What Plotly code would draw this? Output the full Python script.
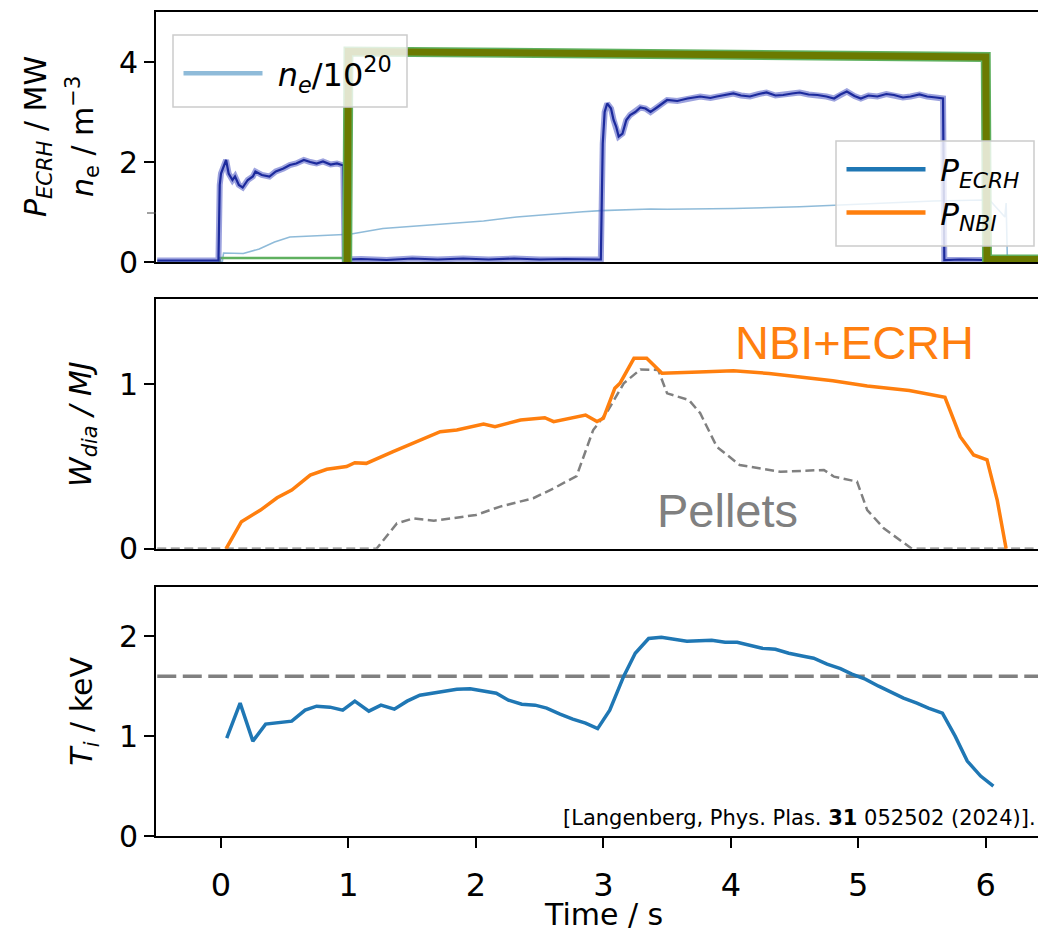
import plotly.graph_objects as go

# ---------------- data ----------------
# Panel 1: heating power (MW) and density (1e20 m^-3)
t_ecrh = [-0.5, -0.02, -0.01, 0.00, 0.04, 0.06, 0.09, 0.11, 0.14, 0.17, 0.21, 0.25, 0.27, 0.32,
          0.38, 0.43, 0.49, 0.54, 0.59, 0.65, 0.70, 0.75, 0.80, 0.86, 0.91, 0.96, 0.97,
          1.1, 1.3, 1.5, 1.7, 1.9, 2.1, 2.3, 2.5, 2.7, 2.96, 2.98, 2.995, 3.01, 3.03, 3.06,
          3.08, 3.10, 3.12, 3.15, 3.18, 3.21, 3.25, 3.29, 3.33, 3.37, 3.42, 3.50, 3.58, 3.66,
          3.76, 3.84, 3.89, 3.96, 4.02, 4.08, 4.15, 4.22, 4.28, 4.35, 4.41, 4.48, 4.54, 4.61,
          4.68, 4.75, 4.81, 4.86, 4.91, 4.97, 5.02, 5.08, 5.15, 5.22, 5.28, 5.35, 5.41, 5.48,
          5.54, 5.61, 5.665, 5.675, 5.8, 6.0, 6.2, 6.5]
p_ecrh = [0.03, 0.03, 1.54, 1.77, 2.04, 1.77, 1.64, 1.71, 1.54, 1.49, 1.64, 1.71, 1.81, 1.74,
          1.71, 1.81, 1.87, 1.94, 1.97, 2.04, 2.00, 1.97, 2.01, 1.95, 1.97, 1.93, 0.05,
          0.06, 0.04, 0.07, 0.05, 0.07, 0.05, 0.07, 0.05, 0.06, 0.05, 0.05, 2.37, 3.00, 3.17, 3.07,
          2.84, 2.71, 2.51, 2.57, 2.84, 2.94, 3.00, 3.09, 3.07, 3.00, 3.09, 3.24, 3.22, 3.27,
          3.31, 3.28, 3.31, 3.34, 3.37, 3.33, 3.31, 3.36, 3.39, 3.33, 3.34, 3.37, 3.39, 3.35,
          3.34, 3.31, 3.27, 3.35, 3.41, 3.32, 3.27, 3.33, 3.31, 3.36, 3.34, 3.29, 3.31, 3.35,
          3.31, 3.29, 3.27, 0.04, 0.05, 0.04, 0.05, 0.04]

t_nbi_pre = [-0.01, -0.01, 0.975]
p_nbi_pre = [0.0, 0.08, 0.08]
t_nbi = [0.99, 1.0, 2.0, 3.0, 4.0, 5.0, 6.0, 6.01, 6.5]
p_nbi = [0.0, 4.21, 4.19, 4.17, 4.15, 4.13, 4.10, 0.05, 0.05]

t_ne = [-0.5, 0.01, 0.02, 0.175, 0.30, 0.42, 0.54, 0.75, 1.01, 1.27, 1.53, 1.80, 2.06, 2.32,
        2.58, 2.84, 2.98, 3.10, 3.37, 3.50, 4.02, 4.54, 5.07, 5.59, 5.98, 6.04, 6.09, 6.15,
        6.16, 6.17, 6.5]
n_e = [0.0, 0.0, 0.18, 0.17, 0.26, 0.40, 0.50, 0.53, 0.555, 0.67, 0.72, 0.77, 0.82, 0.90,
       0.96, 1.005, 1.027, 1.04, 1.06, 1.055, 1.07, 1.105, 1.17, 1.22, 1.24, 1.21, 1.07, 0.90,
       1.18, 0.0, 0.0]

# Panel 2: diamagnetic energy (MJ)
t_w = [0.04, 0.16, 0.31, 0.44, 0.555, 0.70, 0.83, 0.985, 1.05, 1.14, 1.35, 1.53, 1.72, 1.85,
       2.06, 2.15, 2.35, 2.54, 2.61, 2.86, 2.95, 3.00, 3.09, 3.13, 3.24, 3.34, 3.46, 3.75,
       4.02, 4.30, 4.54, 4.80, 5.07, 5.40, 5.68, 5.80, 5.905, 6.01, 6.09, 6.16]
w_nbi_ecrh = [0.0, 0.164, 0.235, 0.31, 0.357, 0.448, 0.483, 0.50, 0.523, 0.519, 0.59, 0.65,
              0.712, 0.722, 0.758, 0.742, 0.783, 0.797, 0.773, 0.813, 0.773, 0.793, 0.976,
              1.006, 1.158, 1.158, 1.067, 1.075, 1.083, 1.066, 1.046, 1.022, 0.99, 0.962,
              0.921, 0.681, 0.57, 0.54, 0.296, 0.0]

t_pel = [-0.5, 1.22, 1.38, 1.51, 1.67, 2.00, 2.19, 2.45, 2.61, 2.79, 2.92, 3.03, 3.16, 3.29,
         3.43, 3.50, 3.67, 3.76, 3.89, 4.07, 4.39, 4.73, 4.81, 4.99, 5.07, 5.20, 5.42, 6.5]
w_pellets = [0.0, 0.0, 0.154, 0.185, 0.17, 0.205, 0.256, 0.307, 0.367, 0.442, 0.722, 0.833,
             1.006, 1.09, 1.087, 0.945, 0.905, 0.824, 0.62, 0.509, 0.468, 0.479, 0.438, 0.408,
             0.235, 0.124, 0.0, 0.0]

# Panel 3: ion temperature (keV)
t_ti = [0.045, 0.15, 0.25, 0.35, 0.555, 0.66, 0.75, 0.855, 0.955, 1.05, 1.16, 1.255, 1.36,
        1.46, 1.56, 1.65, 1.76, 1.85, 1.955, 2.06, 2.16, 2.255, 2.36, 2.465, 2.555, 2.66,
        2.76, 2.86, 2.955, 3.05, 3.16, 3.25, 3.355, 3.455, 3.655, 3.85, 3.955, 4.05, 4.245,
        4.35, 4.455, 4.57, 4.65, 4.755, 4.86, 4.95, 5.055, 5.16, 5.265, 5.355, 5.46, 5.55,
        5.66, 5.76, 5.855, 5.96, 6.06]
t_i = [0.98, 1.33, 0.95, 1.12, 1.15, 1.26, 1.30, 1.29, 1.26, 1.35, 1.25, 1.31, 1.27, 1.35,
       1.41, 1.43, 1.45, 1.47, 1.474, 1.45, 1.43, 1.36, 1.32, 1.31, 1.28, 1.22, 1.17, 1.13,
       1.075, 1.26, 1.60, 1.83, 1.977, 1.99, 1.95, 1.96, 1.94, 1.94, 1.88, 1.87, 1.83, 1.80,
       1.78, 1.72, 1.675, 1.62, 1.57, 1.50, 1.44, 1.38, 1.33, 1.28, 1.23, 1.00, 0.75, 0.60, 0.50]
ti_ref = 1.6
t_ref = [-0.5, 6.5]

x_ticks = [0, 1, 2, 3, 4, 5, 6]
x_range = [-0.51, 6.41]

# ---------------- figure ----------------
W, H = 1038, 929
L, R, T, B = 156, 0, 12, 93
PH = H - T - B
PW = W - L - R


def py(px):
    return (H - B - px) / PH


def px_x(px):
    return (px - L) / PW


FONT = "DejaVu Sans"
BLUE = "#1f77b4"
ORANGE = "#ff7f0e"
NB = "\u00a0"

fig = go.Figure()

# panel 1
fig.add_trace(go.Scatter(x=t_ne, y=n_e, mode="lines", xaxis="x", yaxis="y",
                         line=dict(color="rgba(31,119,180,0.5)", width=1.6), showlegend=False))
fig.add_trace(go.Scatter(x=t_nbi_pre, y=p_nbi_pre, mode="lines", xaxis="x", yaxis="y",
                         line=dict(color="#5fb05f", width=2.5), showlegend=False))
fig.add_trace(go.Scatter(x=t_ecrh, y=p_ecrh, mode="lines", xaxis="x", yaxis="y",
                         line=dict(color="rgba(90,100,200,0.6)", width=6), showlegend=False))
fig.add_trace(go.Scatter(x=t_ecrh, y=p_ecrh, mode="lines", xaxis="x", yaxis="y",
                         line=dict(color="#1c2a9c", width=2.2), showlegend=False))
fig.add_trace(go.Scatter(x=t_nbi, y=p_nbi, mode="lines", xaxis="x", yaxis="y",
                         line=dict(color="#5fb05f", width=10), showlegend=False))
fig.add_trace(go.Scatter(x=t_nbi, y=p_nbi, mode="lines", xaxis="x", yaxis="y",
                         line=dict(color="#6b7a00", width=7), showlegend=False))

# legend entries
fig.add_trace(go.Scatter(x=[None], y=[None], mode="lines", xaxis="x", yaxis="y",
                         line=dict(color="rgba(31,119,180,0.5)", width=4.5),
                         name=NB + "<i>n<sub>e</sub></i>/10<sup>20</sup>", legend="legend"))
fig.add_trace(go.Scatter(x=[None], y=[None], mode="lines", xaxis="x", yaxis="y",
                         line=dict(color=BLUE, width=4.5), legendgroup="a",
                         name=NB + "<i>P<sub>ECRH</sub></i>", legend="legend2"))
fig.add_trace(go.Scatter(x=[None], y=[None], mode="lines", xaxis="x", yaxis="y",
                         line=dict(color=ORANGE, width=4.5), legendgroup="b",
                         name=NB + "<i>P<sub>NBI</sub></i>", legend="legend2"))

# panel 2
fig.add_trace(go.Scatter(x=t_pel, y=w_pellets, mode="lines", xaxis="x2", yaxis="y2",
                         line=dict(color="#808080", width=2.5, dash="9px,4.5px"), showlegend=False))
fig.add_trace(go.Scatter(x=t_w, y=w_nbi_ecrh, mode="lines", xaxis="x2", yaxis="y2",
                         line=dict(color=ORANGE, width=3.5), showlegend=False))

# panel 3
fig.add_trace(go.Scatter(x=t_ref, y=[ti_ref, ti_ref], mode="lines", xaxis="x3", yaxis="y3",
                         line=dict(color="#808080", width=3.5, dash="19px,6.5px"), showlegend=False))
fig.add_trace(go.Scatter(x=t_ti, y=t_i, mode="lines", xaxis="x3", yaxis="y3",
                         line=dict(color=BLUE, width=3.5), showlegend=False))
# carrier for the tick-label axis
fig.add_trace(go.Scatter(x=[None], y=[None], mode="lines", xaxis="x4", yaxis="y3",
                         showlegend=False))

axis_common = dict(showline=True, linewidth=2, linecolor="black", showgrid=False,
                   zeroline=False)
xcommon = dict(axis_common, mirror=True, range=x_range, domain=[0, 1])
ycommon = dict(axis_common, mirror=False, ticks="outside", ticklen=10, tickwidth=2,
               tickcolor="black", tickfont=dict(size=30, color="black"))

d1 = [py(262), 1.0]
d2 = [py(548.7), py(299.3)]
d3 = [0.0, py(587.3)]

fig.update_layout(
    width=W, height=H,
    margin=dict(l=L, r=R, t=T, b=B, pad=0),
    paper_bgcolor="white", plot_bgcolor="rgba(0,0,0,0)",
    font=dict(family=FONT, color="black", size=28),
    xaxis=dict(xcommon, anchor="y", showticklabels=False, ticks=""),
    xaxis2=dict(xcommon, anchor="y2", showticklabels=False, ticks="", matches="x"),
    xaxis3=dict(xcommon, anchor="y3", matches="x", ticks="outside", ticklen=10, tickwidth=2,
                tickcolor="black", tickvals=x_ticks, showticklabels=False),
    xaxis4=dict(overlaying="x3", anchor="y3", matches="x", side="bottom", domain=[0, 1],
                showline=False, showgrid=False, zeroline=False, ticks="outside", ticklen=21,
                tickwidth=1, tickcolor="rgba(0,0,0,0)", tickvals=x_ticks,
                tickfont=dict(size=32, color="black")),
    yaxis=dict(ycommon, domain=d1, range=[0, 5], tickvals=[0, 2, 4], anchor="x"),
    yaxis2=dict(ycommon, domain=d2, range=[0, 1.517], tickvals=[0, 1], anchor="x2"),
    yaxis3=dict(ycommon, domain=d3, range=[0, 2.49], tickvals=[0, 1, 2], anchor="x3"),
    legend=dict(x=px_x(178.5), y=py(46), xanchor="left", yanchor="top",
                bgcolor="rgba(0,0,0,0)", borderwidth=0,
                font=dict(size=32, family=FONT, color="black"), itemwidth=79,
                tracegroupgap=0),
    legend2=dict(x=px_x(841.5), y=py(142.5), xanchor="left", yanchor="top",
                 bgcolor="rgba(0,0,0,0)", borderwidth=0,
                 font=dict(size=31, family=FONT, color="black"), itemwidth=79,
                 tracegroupgap=0),
)

ann = []
ann.append(dict(text="<i>P<sub>ECRH</sub></i> / MW", x=px_x(37), y=(d1[0] + d1[1]) / 2,
                textangle=-90, font=dict(size=30)))
ann.append(dict(text="<i>n</i><sub>e</sub> / m<sup>−3</sup>", x=px_x(82), y=(d1[0] + d1[1]) / 2,
                textangle=-90, font=dict(size=30)))
ann.append(dict(text="<i>W<sub>dia</sub> / MJ</i>", x=px_x(82), y=(d2[0] + d2[1]) / 2,
                textangle=-90, font=dict(size=30)))
ann.append(dict(text="<i>T<sub>i</sub></i> / keV", x=px_x(84), y=(d3[0] + d3[1]) / 2,
                textangle=-90, font=dict(size=30)))
ann.append(dict(text="Time / s", x=px_x(603), y=py(914), font=dict(size=30)))
ann.append(dict(text="NBI+ECRH", x=px_x(854), y=py(342.5),
                font=dict(size=47, family="Liberation Sans", color=ORANGE)))
ann.append(dict(text="Pellets", x=px_x(727), y=py(510),
                font=dict(size=47, family="Liberation Sans", color="#808080")))
ann.append(dict(text="[Langenberg, Phys. Plas. <b>31</b> 052502 (2024)].", x=1.0, y=py(818),
                xanchor="right", font=dict(size=21)))
for a in ann:
    a.setdefault("xanchor", "center")
    a.update(xref="paper", yref="paper", yanchor="middle", showarrow=False)
fig.update_layout(annotations=ann)

# legend frames (semi-transparent, above traces, below legend text)
for (x0, y0, x1, y1) in [(173, 35, 407, 107), (836, 141, 1034, 246)]:
    fig.add_shape(type="rect", xref="paper", yref="paper", layer="above",
                  x0=px_x(x0), x1=px_x(x1), y0=py(y1), y1=py(y0),
                  fillcolor="rgba(255,255,255,0.8)", line=dict(color="#cccccc", width=1.5))

# small thin tick on upper panel
fig.add_shape(type="line", xref="paper", yref="y", x0=px_x(147), x1=0, y0=0.98, y1=0.98,
              line=dict(color="#444444", width=1))

fig.write_html("out.html", config={"displayModeBar": False},
               post_script="document.body.style.margin='0';document.body.style.overflow='hidden';")
